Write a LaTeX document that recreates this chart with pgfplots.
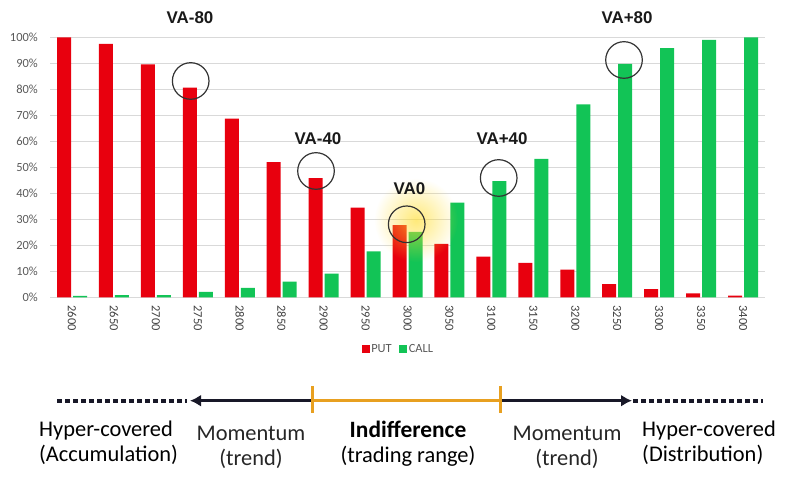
\documentclass[border=0pt]{standalone}
\usepackage{fontspec}
\setmainfont{Carlito}
\newfontfamily\arialf{Liberation Sans}
\usepackage{pgfplots}
\pgfplotsset{compat=1.18}
\usetikzlibrary{arrows.meta,fadings}
\definecolor{putred}{RGB}{232,0,14}
\definecolor{callgreen}{RGB}{18,196,86}
\definecolor{gridgray}{RGB}{217,217,217}
\definecolor{ticktext}{RGB}{89,89,89}
\definecolor{xticktext}{RGB}{64,64,64}
\definecolor{navy}{RGB}{24,24,40}
\definecolor{orangeline}{RGB}{232,160,32}
\definecolor{glowyellow}{RGB}{255,222,50}
\tikzfading[name=glowfade, inner color=transparent!0, outer color=transparent!100]
\begin{document}
\begin{tikzpicture}[x=1bp,y=1bp]
\path[use as bounding box] (0,0) rectangle (800,492);
\begin{axis}[
  at={(50bp,194.7bp)}, anchor=south west,
  scale only axis, width=715bp, height=260bp,
  xmin=-0.525, xmax=16.525, ymin=0, ymax=100,
  ybar=2bp, bar width=14bp,
  xtick={0,...,16},
  xticklabels={2600,2650,2700,2750,2800,2850,2900,2950,3000,3050,3100,3150,3200,3250,3300,3350,3400},
  ytick={0,10,...,100},
  yticklabels={0\%,10\%,20\%,30\%,40\%,50\%,60\%,70\%,80\%,90\%,100\%},
  ymajorgrids, grid style={draw=gridgray, line width=0.9bp},
  axis line style={draw=none}, major tick length=0pt,
  xticklabel style={rotate=-90, anchor=west, inner sep=0pt, font=\fontsize{12.5}{13}\selectfont, text=xticktext},
  xticklabel shift=8bp,
  yticklabel style={anchor=east, inner sep=0pt, font=\fontsize{12.5}{13}\selectfont, text=ticktext},
  yticklabel shift=12bp,
  legend style={at={(0.487,-0.199)}, anchor=center, draw=none, fill=none,
    legend columns=2, font=\fontsize{12.5}{13}\selectfont, text=ticktext,
    /tikz/every even column/.append style={column sep=6bp}, inner sep=0pt,
    nodes={inner sep=1.5bp}},
]
\addplot[fill=putred, draw=none, legend image code/.code={\fill[putred] (0bp,-4bp) rectangle (8bp,4bp);}] coordinates {
(0,100) (1,97.5) (2,89.6) (3,80.6) (4,68.7) (5,52.0) (6,45.8) (7,34.5) (8,27.8)
(9,20.5) (10,15.6) (11,13.2) (12,10.6) (13,5.1) (14,3.1) (15,1.5) (16,0.6)};
\addlegendentry{PUT}
\addplot[fill=callgreen, draw=none, legend image code/.code={\fill[callgreen] (0bp,-4bp) rectangle (8bp,4bp);}] coordinates {
(0,0.5) (1,0.8) (2,0.8) (3,2.1) (4,3.6) (5,6.0) (6,9.1) (7,17.7) (8,25.2)
(9,36.4) (10,44.7) (11,53.2) (12,74.2) (13,89.8) (14,95.8) (15,99.0) (16,100)};
\addlegendentry{CALL}
\end{axis}
% glow
\fill[glowyellow, path fading=glowfade, opacity=0.65] (416,{492-220}) circle (42);
% circles
\foreach \cx/\cy in {190.7/81, 316/171, 406.7/224.3, 498.7/178, 624/60}
  \draw[line width=1.2bp, black!80] (\cx,{492-\cy}) circle (18.3);
% labels
\foreach \lx/\ly/\lt in {190/17.5/VA-80, 318/138.5/VA-40, 409.5/189/VA0, 502/138.5/VA+40, 627/17.5/VA+80}
  \node[font=\arialf\bfseries\fontsize{17}{17}\selectfont, text=black!90, inner sep=0pt] at (\lx,{492-\ly}) {\lt};
% bottom line
\draw[navy, line width=4bp, dash pattern=on 5bp off 3bp] (57,91.3) -- (187,91.3);
\draw[navy, line width=3.5bp, -{Latex[length=11bp,width=12bp]}] (312,91.3) -- (190,91.3);
\draw[navy, line width=3.5bp, -{Latex[length=11bp,width=12bp]}] (500,91.3) -- (632,91.3);
\draw[navy, line width=4bp, dash pattern=on 5bp off 3bp] (633,91.3) -- (763,91.3);
\draw[orangeline, line width=3bp] (312,91.3) -- (500,91.3);
\draw[orangeline, line width=3bp] (312,{492-386}) -- (312,{492-413});
\draw[orangeline, line width=3bp] (500,{492-386}) -- (500,{492-413});
% bottom texts
\begin{scope}[every node/.style={inner sep=0pt, font=\fontsize{22.5}{26}\selectfont}]
\node[anchor=base west] at (39,{492-437}) {Hyper-covered};
\node[anchor=base west] at (39,{492-462}) {(Accumulation)};
\node[anchor=base, text=black!85] at (251,{492-441}) {Momentum};
\node[anchor=base, text=black!85] at (251,{492-466}) {(trend)};
\node[anchor=base, font=\bfseries\fontsize{23.5}{26}\selectfont] at (408,{492-438}) {Indifference};
\node[anchor=base] at (408,{492-463}) {(trading range)};
\node[anchor=base, text=black!85] at (567,{492-441}) {Momentum};
\node[anchor=base, text=black!85] at (567,{492-466}) {(trend)};
\node[anchor=base west] at (642,{492-437}) {Hyper-covered};
\node[anchor=base west] at (642,{492-462}) {(Distribution)};
\end{scope}
\end{tikzpicture}
\end{document}
